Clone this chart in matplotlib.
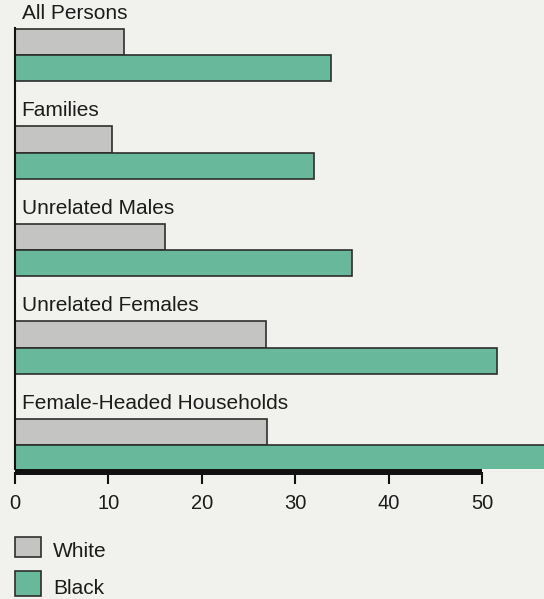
import matplotlib.pyplot as plt
from matplotlib.patches import Rectangle
import numpy as np

plt.rcParams['font.family'] = ['Liberation Sans', 'DejaVu Sans']

# Data (percent below poverty level)
groups = ['All Persons', 'Families', 'Unrelated Males', 'Unrelated Females',
          'Female-Headed Households']
white = [11.7, 10.4, 16.0, 26.9, 27.0]
black = [33.8, 32.0, 36.1, 51.6, 58.0]
xticks = [0, 10, 20, 30, 40, 50]

gray_c = '#c4c5c2'
teal_c = '#68b99c'
edge_c = '#2e2e2e'
bg = '#f1f1ed'
txt = '#1c1c1c'

fig = plt.figure(figsize=(5.44, 5.99), dpi=100, facecolor=bg)
ax = fig.add_axes([15 / 544, 130 / 599, 529 / 544, 441 / 599])
ax.set_facecolor(bg)

y = np.arange(len(groups))
h = 0.267
ax.barh(y - h / 2, white, height=h, color=gray_c, edgecolor=edge_c, linewidth=1.2)
ax.barh(y + h / 2, black, height=h, color=teal_c, edgecolor=edge_c, linewidth=1.2)

for i, g in enumerate(groups):
    ax.text(0.7, i - 0.37, g, fontsize=15, color=txt, va='baseline',
            ha='left', clip_on=False)

ax.set_xlim(0, 56.6)
ax.set_ylim(4.246, -0.277)

for s in ['top', 'right']:
    ax.spines[s].set_visible(False)
ax.spines['left'].set_linewidth(1.5)
ax.spines['left'].set_color('#111111')
ax.spines['bottom'].set_bounds(0, 50)
ax.spines['bottom'].set_position(('outward', 2.5))
ax.spines['bottom'].set_linewidth(4.3)
ax.spines['bottom'].set_color('#111111')
ax.spines['bottom'].set_capstyle('butt')

ax.set_yticks([])
ax.set_xticks(xticks)
ax.set_xticklabels([str(t) for t in xticks])
ax.tick_params(axis='x', length=8.5, width=1.5, color='#111111', pad=7,
               labelsize=14.5, labelcolor=txt)

# legend
fig.add_artist(Rectangle((15 / 544, 1 - 557 / 599), 26 / 544, 20 / 599,
                         transform=fig.transFigure, facecolor=gray_c,
                         edgecolor=edge_c, linewidth=1.2))
fig.add_artist(Rectangle((15 / 544, 1 - 596 / 599), 26 / 544, 25 / 599,
                         transform=fig.transFigure, facecolor=teal_c,
                         edgecolor=edge_c, linewidth=1.2))
fig.text(53 / 544, 1 - 557 / 599, 'White', fontsize=15, color=txt, va='baseline')
fig.text(53 / 544, 1 - 594 / 599, 'Black', fontsize=15, color=txt, va='baseline')

fig.savefig('out.png', dpi=100, facecolor=bg)
